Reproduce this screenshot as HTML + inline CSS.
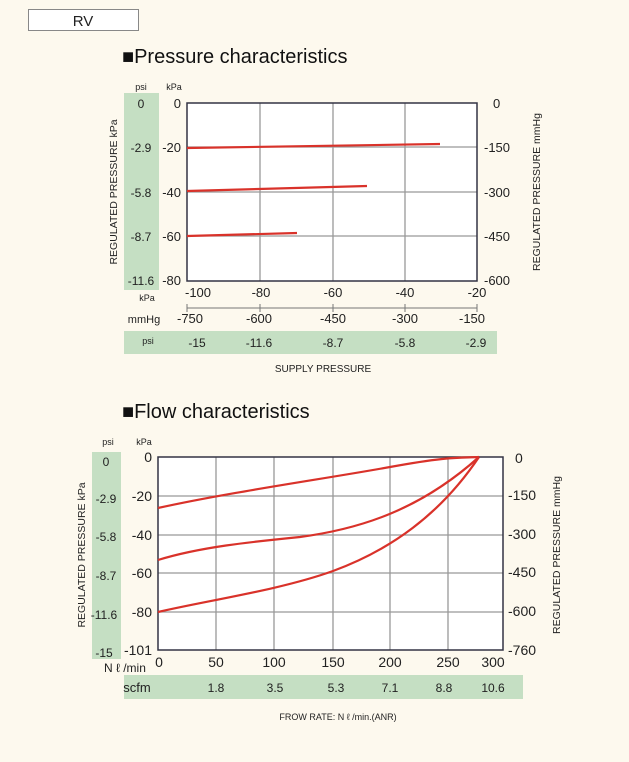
<!DOCTYPE html><html><head><style>
body{margin:0;width:629px;height:757px;background:#fdf9ee;overflow:hidden;font-family:"Liberation Sans",sans-serif}
</style></head><body>
<svg width="629" height="757" xmlns="http://www.w3.org/2000/svg" font-family="Liberation Sans, sans-serif">
<rect x="28.5" y="9.5" width="110" height="21" fill="#fff" stroke="#888"/>
<text x="83" y="26" font-size="15" text-anchor="middle" fill="#222">RV</text>
<text x="122" y="63" font-size="20" fill="#111">■Pressure characteristics</text>
<text x="122" y="418" font-size="20" fill="#111">■Flow characteristics</text>
<!-- chart 1 -->
<rect x="124" y="93" width="35" height="197" fill="#c5dfc3"/>
<rect x="124" y="331" width="373" height="23" fill="#c5dfc3"/>
<rect x="187" y="103" width="290" height="178" fill="#fff"/>
<g stroke="#999" stroke-width="1.3">
<line x1="260" y1="103" x2="260" y2="281"/><line x1="333" y1="103" x2="333" y2="281"/><line x1="405" y1="103" x2="405" y2="281"/>
<line x1="187" y1="147" x2="477" y2="147"/><line x1="187" y1="192" x2="477" y2="192"/><line x1="187" y1="236" x2="477" y2="236"/>
</g>
<rect x="187" y="103" width="290" height="178" fill="none" stroke="#334" stroke-width="1.5"/>
<g stroke="#d9322a" stroke-width="2.2">
<line x1="187" y1="148" x2="440" y2="144"/><line x1="187" y1="191" x2="367" y2="186"/><line x1="187" y1="236" x2="297" y2="233"/>
</g>
<g font-size="13" fill="#222" text-anchor="end">
<text x="181" y="108">0</text><text x="181" y="152">-20</text><text x="181" y="197">-40</text><text x="181" y="241">-60</text><text x="181" y="285">-80</text>
</g>
<g font-size="12" fill="#222" text-anchor="middle">
<text x="141" y="108">0</text><text x="141" y="152">-2.9</text><text x="141" y="197">-5.8</text><text x="141" y="241">-8.7</text><text x="141" y="285">-11.6</text>
</g>
<text x="141" y="90" font-size="9" text-anchor="middle" fill="#222">psi</text>
<text x="174" y="90" font-size="9" text-anchor="middle" fill="#222">kPa</text>
<g font-size="13" fill="#222">
<text x="493" y="108">0</text><text x="484" y="152">-150</text><text x="484" y="197">-300</text><text x="484" y="241">-450</text><text x="484" y="285">-600</text>
</g>
<text transform="translate(117,192) rotate(-90)" font-size="10.5" text-anchor="middle" fill="#222">REGULATED PRESSURE kPa</text>
<text transform="translate(540,192) rotate(-90)" font-size="10.5" text-anchor="middle" fill="#222">REGULATED PRESSURE mmHg</text>
<g font-size="13" fill="#222" text-anchor="middle">
<text x="198" y="297">-100</text><text x="261" y="297">-80</text><text x="333" y="297">-60</text><text x="405" y="297">-40</text><text x="477" y="297">-20</text>
<text x="190" y="323">-750</text><text x="259" y="323">-600</text><text x="333" y="323">-450</text><text x="405" y="323">-300</text><text x="472" y="323">-150</text>
</g>
<g stroke="#777"><line x1="187" y1="308" x2="477" y2="308"/><line x1="187" y1="304" x2="187" y2="312"/><line x1="260" y1="304" x2="260" y2="312"/><line x1="333" y1="304" x2="333" y2="312"/><line x1="405" y1="304" x2="405" y2="312"/><line x1="477" y1="304" x2="477" y2="312"/></g>
<text x="147" y="301" font-size="9" text-anchor="middle" fill="#222">kPa</text>
<text x="144" y="323" font-size="11" text-anchor="middle" fill="#222">mmHg</text>
<g font-size="12" fill="#222" text-anchor="middle">
<text x="148" y="344" font-size="9">psi</text><text x="197" y="347">-15</text><text x="259" y="347">-11.6</text><text x="333" y="347">-8.7</text><text x="405" y="347">-5.8</text><text x="476" y="347">-2.9</text>
</g>
<text x="323" y="372" font-size="10" text-anchor="middle" fill="#222">SUPPLY PRESSURE</text>
<!-- chart 2 -->
<rect x="92" y="452" width="29" height="207" fill="#c5dfc3"/>
<rect x="124" y="675" width="399" height="24" fill="#c5dfc3"/>
<rect x="158" y="457" width="345" height="193" fill="#fff"/>
<g stroke="#999" stroke-width="1.3">
<line x1="216" y1="457" x2="216" y2="650"/><line x1="274" y1="457" x2="274" y2="650"/><line x1="333" y1="457" x2="333" y2="650"/><line x1="390" y1="457" x2="390" y2="650"/><line x1="448" y1="457" x2="448" y2="650"/>
<line x1="158" y1="496" x2="503" y2="496"/><line x1="158" y1="535" x2="503" y2="535"/><line x1="158" y1="573" x2="503" y2="573"/><line x1="158" y1="612" x2="503" y2="612"/>
</g>
<rect x="158" y="457" width="345" height="193" fill="none" stroke="#334" stroke-width="1.5"/>
<g stroke="#d9322a" stroke-width="2.2" fill="none">
<path d="M158,508 C230,492 330,478 390,467 S460,458 479,457"/>
<path d="M158,560 C200,547 250,542 300,537 C360,529 420,510 479,457"/>
<path d="M158,612 C210,600 280,590 333,571 C390,550 440,515 479,457"/>
</g>
<g font-size="14" fill="#222" text-anchor="end">
<text x="152" y="462">0</text><text x="152" y="501">-20</text><text x="152" y="540">-40</text><text x="152" y="578">-60</text><text x="152" y="617">-80</text><text x="152" y="655">-101</text>
</g>
<g font-size="12" fill="#222" text-anchor="middle">
<text x="106" y="466">0</text><text x="106" y="503">-2.9</text><text x="106" y="541">-5.8</text><text x="106" y="580">-8.7</text><text x="104" y="619">-11.6</text><text x="104" y="657">-15</text>
</g>
<text x="108" y="445" font-size="9" text-anchor="middle" fill="#222">psi</text>
<text x="144" y="445" font-size="9" text-anchor="middle" fill="#222">kPa</text>
<g font-size="14" fill="#222">
<text x="515" y="463">0</text><text x="508" y="500">-150</text><text x="508" y="539">-300</text><text x="508" y="577">-450</text><text x="508" y="616">-600</text><text x="508" y="655">-760</text>
</g>
<text transform="translate(85,555) rotate(-90)" font-size="10.5" text-anchor="middle" fill="#222">REGULATED PRESSURE kPa</text>
<text transform="translate(560,555) rotate(-90)" font-size="10.5" text-anchor="middle" fill="#222">REGULATED PRESSURE mmHg</text>
<g font-size="14" fill="#222" text-anchor="middle">
<text x="159" y="667">0</text><text x="216" y="667">50</text><text x="274" y="667">100</text><text x="333" y="667">150</text><text x="390" y="667">200</text><text x="448" y="667">250</text><text x="493" y="667">300</text>
</g>
<text x="104" y="672" font-size="12" fill="#222">N ℓ /min</text>
<g font-size="12" fill="#222" text-anchor="middle">
<text x="137" y="692" font-size="13">scfm</text><text x="216" y="692">1.8</text><text x="275" y="692">3.5</text><text x="336" y="692">5.3</text><text x="390" y="692">7.1</text><text x="444" y="692">8.8</text><text x="493" y="692">10.6</text>
</g>
<text x="338" y="720" font-size="9" text-anchor="middle" fill="#222">FROW RATE: N ℓ /min.(ANR)</text>
</svg>
</body></html>
